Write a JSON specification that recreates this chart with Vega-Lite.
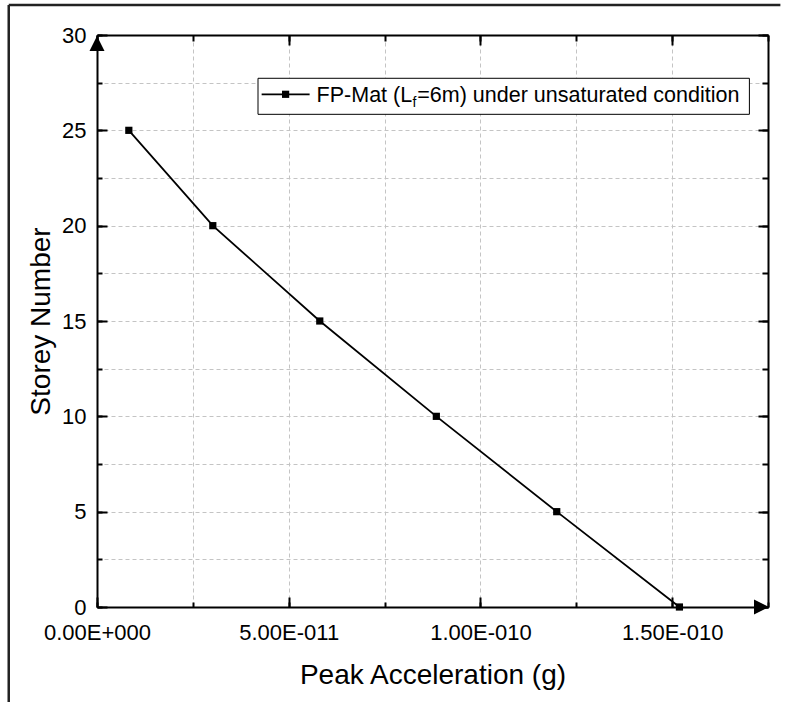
{
  "$schema": "https://vega.github.io/schema/vega-lite/v6.json",
  "width": 671,
  "height": 572,
  "autosize": {"type": "none"},
  "padding": {"left": 97, "top": 35, "right": 19, "bottom": 95},
  "background": "white",
  "config": {
    "view": {"stroke": null},
    "font": "Liberation Sans",
    "axis": {"labelFont": "Liberation Sans", "titleFont": "Liberation Sans", "labelColor": "black", "titleColor": "black", "titleFontWeight": "normal", "tickColor": "black", "domainColor": "black", "gridColor": "#c4c4c4", "gridDash": [4, 3], "gridWidth": 1}
  },
  "data": {
    "values": [
      {"acc": 8.3e-12, "storey": 25},
      {"acc": 3.02e-11, "storey": 20},
      {"acc": 5.81e-11, "storey": 15},
      {"acc": 8.85e-11, "storey": 10},
      {"acc": 1.199e-10, "storey": 5},
      {"acc": 1.519e-10, "storey": 0}
    ]
  },
  "resolve": {"axis": {"x": "independent", "y": "independent"}},
  "layer": [
    {
      "mark": {"type": "point", "opacity": 0},
      "encoding": {
        "x": {"field": "acc", "type": "quantitative", "scale": {"domain": [0, 1.75e-10], "nice": false, "zero": false},
          "axis": {"orient": "bottom", "values": [0, 2.5e-11, 5e-11, 7.5e-11, 1e-10, 1.25e-10, 1.5e-10, 1.75e-10], "tickSize": -5, "tickWidth": 2, "labels": false, "domain": false, "grid": true, "title": null}},
        "y": {"field": "storey", "type": "quantitative", "scale": {"domain": [0, 30], "nice": false, "zero": false},
          "axis": {"orient": "left", "values": [0, 2.5, 5, 7.5, 10, 12.5, 15, 17.5, 20, 22.5, 25, 27.5, 30], "tickSize": -5, "tickWidth": 2, "labels": false, "domain": false, "grid": true, "title": null}}
      }
    },
    {
      "mark": {"type": "point", "opacity": 0},
      "encoding": {
        "x": {"field": "acc", "type": "quantitative",
          "axis": {"orient": "top", "values": [0, 2.5e-11, 5e-11, 7.5e-11, 1e-10, 1.25e-10, 1.5e-10, 1.75e-10], "tickSize": -6, "tickWidth": 2, "labels": false, "domain": false, "grid": false, "title": null}},
        "y": {"field": "storey", "type": "quantitative",
          "axis": {"orient": "right", "values": [0, 2.5, 5, 7.5, 10, 12.5, 15, 17.5, 20, 22.5, 25, 27.5, 30], "tickSize": -6, "tickWidth": 2, "labels": false, "domain": false, "grid": false, "title": null}}
      }
    },
    {
      "mark": {"type": "point", "opacity": 0},
      "encoding": {
        "x": {"field": "acc", "type": "quantitative",
          "axis": {"orient": "top", "values": [0, 5e-11, 1e-10, 1.5e-10], "tickSize": -10, "tickWidth": 2, "labels": false, "domain": true, "domainWidth": 2, "grid": false, "title": null}},
        "y": {"field": "storey", "type": "quantitative",
          "axis": {"orient": "right", "values": [0, 5, 10, 15, 20, 25, 30], "tickSize": -10, "tickWidth": 2, "labels": false, "domain": true, "domainWidth": 2, "grid": false, "title": null}}
      }
    },
    {
      "mark": {"type": "line", "color": "black", "strokeWidth": 1.8},
      "encoding": {
        "x": {"field": "acc", "type": "quantitative",
          "axis": {"orient": "bottom", "values": [0, 5e-11, 1e-10, 1.5e-10], "tickSize": -10, "tickWidth": 2, "domain": true, "domainWidth": 2, "grid": false,
            "labelExpr": "datum.value == 0 ? '0.00E+000' : datum.value < 7e-11 ? '5.00E-011' : datum.value < 1.2e-10 ? '1.00E-010' : '1.50E-010'",
            "labelFontSize": 22, "labelPadding": 42, "labelBaseline": "alphabetic", "labelFlush": false, "labelOverlap": false,
            "title": "Peak Acceleration (g)", "titleFontSize": 28, "titleX": 335.5, "titleY": 76, "titleAlign": "center", "titleBaseline": "alphabetic"}},
        "y": {"field": "storey", "type": "quantitative",
          "axis": {"orient": "left", "values": [0, 5, 10, 15, 20, 25, 30], "tickSize": -10, "tickWidth": 2, "domain": true, "domainWidth": 2, "grid": false,
            "labelFontSize": 22, "labelPadding": 21, "labelFlush": false, "labelOverlap": false,
            "title": "Storey Number", "titleFontSize": 28, "titleX": -48, "titleY": 286, "titleAngle": -90, "titleAlign": "center", "titleBaseline": "alphabetic"}}
      }
    },
    {
      "mark": {"type": "point", "shape": "square", "filled": true, "color": "black", "size": 52, "opacity": 1},
      "encoding": {
        "x": {"field": "acc", "type": "quantitative", "axis": null},
        "y": {"field": "storey", "type": "quantitative", "axis": null}
      }
    },
    {
      "data": {"values": [{}]},
      "mark": {"type": "point", "shape": "M0,-1L-1,1L1,1Z", "filled": true, "color": "black", "size": 225, "opacity": 1, "yOffset": 8.5},
      "encoding": {
        "x": {"datum": 0, "type": "quantitative", "axis": null},
        "y": {"datum": 30, "type": "quantitative", "axis": null}
      }
    },
    {
      "data": {"values": [{}]},
      "mark": {"type": "point", "shape": "M1,0L-1,-1L-1,1Z", "filled": true, "color": "black", "size": 225, "opacity": 1, "xOffset": -6.5},
      "encoding": {
        "x": {"datum": 1.75e-10, "type": "quantitative", "axis": null},
        "y": {"datum": 0, "type": "quantitative", "axis": null}
      }
    },
    {
      "data": {"values": [{}]},
      "mark": {"type": "rect", "fill": "white", "stroke": "black", "strokeWidth": 1},
      "encoding": {
        "x": {"datum": 4.199e-11, "type": "quantitative", "axis": null},
        "x2": {"datum": 1.7015e-10},
        "y": {"datum": 27.73, "type": "quantitative", "axis": null},
        "y2": {"datum": 25.84}
      }
    },
    {
      "data": {"values": [{}]},
      "mark": {"type": "rule", "color": "black", "strokeWidth": 1.8},
      "encoding": {
        "x": {"datum": 4.294e-11, "type": "quantitative", "axis": null},
        "x2": {"datum": 5.545e-11},
        "y": {"datum": 26.89, "type": "quantitative", "axis": null}
      }
    },
    {
      "data": {"values": [{}]},
      "mark": {"type": "point", "shape": "square", "filled": true, "color": "black", "size": 52, "opacity": 1},
      "encoding": {
        "x": {"datum": 4.919e-11, "type": "quantitative", "axis": null},
        "y": {"datum": 26.89, "type": "quantitative", "axis": null}
      }
    },
    {
      "data": {"values": [{}]},
      "mark": {"type": "text", "text": "FP-Mat (L", "align": "left", "baseline": "alphabetic", "fontSize": 21.5, "font": "Liberation Sans", "color": "black"},
      "encoding": {
        "x": {"datum": 5.727e-11, "type": "quantitative", "axis": null},
        "y": {"datum": 26.47, "type": "quantitative", "axis": null}
      }
    },
    {
      "data": {"values": [{}]},
      "mark": {"type": "text", "text": "f", "align": "left", "baseline": "alphabetic", "fontSize": 14, "font": "Liberation Sans", "color": "black"},
      "encoding": {
        "x": {"datum": 8.23e-11, "type": "quantitative", "axis": null},
        "y": {"datum": 26.22, "type": "quantitative", "axis": null}
      }
    },
    {
      "data": {"values": [{}]},
      "mark": {"type": "text", "text": "=6m) under unsaturated condition", "align": "right", "baseline": "alphabetic", "fontSize": 21.5, "font": "Liberation Sans", "color": "black"},
      "encoding": {
        "x": {"datum": 1.6755e-10, "type": "quantitative", "axis": null},
        "y": {"datum": 26.47, "type": "quantitative", "axis": null}
      }
    },
    {
      "data": {"values": [{}]},
      "mark": {"type": "rule", "color": "#222222", "strokeWidth": 2.5, "clip": false},
      "encoding": {
        "x": {"datum": -2.302e-11, "type": "quantitative", "axis": null},
        "y": {"datum": 31.57, "type": "quantitative", "axis": null},
        "y2": {"datum": -6}
      }
    },
    {
      "data": {"values": [{}]},
      "mark": {"type": "rule", "color": "#222222", "strokeWidth": 2.5, "clip": false},
      "encoding": {
        "x": {"datum": -2.302e-11, "type": "quantitative", "axis": null},
        "x2": {"datum": 1.7823e-10},
        "y": {"datum": 31.57, "type": "quantitative", "axis": null}
      }
    }
  ]
}
